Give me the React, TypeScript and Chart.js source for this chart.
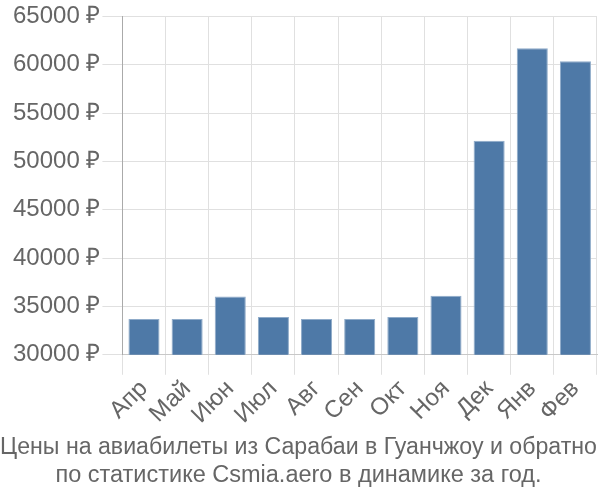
import React, { useEffect, useRef } from "react";
import { Chart, registerables } from "chart.js";

Chart.register(...registerables);

const months = ["Апр", "Май", "Июн", "Июл", "Авг", "Сен", "Окт", "Ноя", "Дек", "Янв", "Фев"];
const prices = [33700, 33700, 36030, 33900, 33700, 33700, 33900, 36100, 52150, 61700, 60350];
const titleLines = [
  "Цены на авиабилеты из Сарабаи в Гуанчжоу и обратно",
  "по статистике Csmia.aero в динамике за год.",
];
const yMin = 30000;
const yMax = 65000;
const yStep = 5000;

export default function App() {
  const ref = useRef<HTMLCanvasElement | null>(null);
  useEffect(() => {
    if (!ref.current) return;
    const font = { family: "'Liberation Sans', Arial, sans-serif", size: 24 };
    const chart = new Chart(ref.current, {
      type: "bar",
      data: {
        labels: months,
        datasets: [
          {
            data: prices,
            backgroundColor: "#4e79a7",
            borderColor: "#8fabc9",
            borderWidth: { top: 1, left: 1, right: 1, bottom: 0 },
          },
        ],
      },
      options: {
        animation: false,
        responsive: false,
        maintainAspectRatio: false,
        layout: { padding: { left: 0, right: 3, top: 2, bottom: 0 } },
        plugins: {
          legend: { display: false },
          tooltip: { enabled: false },
          title: {
            display: true,
            text: titleLines,
            position: "bottom",
            color: "#666",
            font: { family: font.family, size: 23.5, weight: "normal" },
            padding: { top: 4, bottom: 10 },
          },
        },
        scales: {
          x: {
            grid: { color: "#e0e0e0", lineWidth: 1, tickLength: 20 },
            border: { color: "#c8c8c8" },
            ticks: { color: "#666", font, maxRotation: 45, minRotation: 45, autoSkip: false, padding: 0 },
          },
          y: {
            min: yMin,
            max: yMax,
            grid: { color: "#e0e0e0", lineWidth: 1, tickLength: 20 },
            border: { color: "#aaaaaa" },
            afterFit: (s: any) => {
              s.width += 11;
            },
            ticks: {
              color: "#666",
              font,
              padding: 2,
              stepSize: yStep,
              callback: (v: any) => `${v} ₽`,
            },
          },
        },
      },
    });
    return () => chart.destroy();
  }, []);
  return (
    <div style={{ position: "fixed", left: 0, top: 0, width: 600, height: 500, background: "#fff" }}>
      <canvas ref={ref} width={600} height={500} style={{ width: 600, height: 500 }} />
    </div>
  );
}
